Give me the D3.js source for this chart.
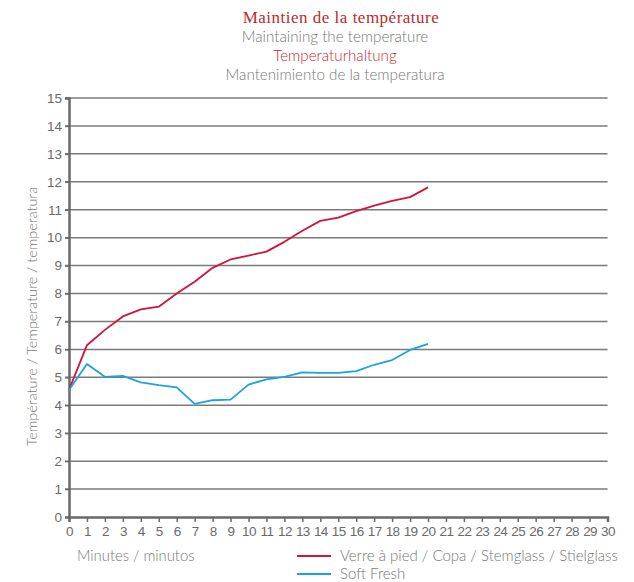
<!DOCTYPE html>
<html lang="fr">
<head>
<meta charset="UTF-8" />
<title>Maintien de la température</title>
<style>
  * { margin: 0; padding: 0; }
  body { background: #fff; }
</style>
</head>
<body>
<script src="https://d3js.org/d3.v7.min.js"></script>
<script>
  const minutes = d3.range(0, 21);
  const stemglass = [4.55, 6.15, 6.7, 7.18, 7.43, 7.53, 8.0, 8.42, 8.92, 9.22, 9.36, 9.5, 9.85, 10.25, 10.6, 10.72, 10.95, 11.15, 11.32, 11.45, 11.8];
  const softFresh = [4.55, 5.48, 5.02, 5.05, 4.82, 4.72, 4.64, 4.05, 4.18, 4.2, 4.74, 4.93, 5.02, 5.18, 5.16, 5.16, 5.22, 5.45, 5.62, 5.98, 6.2];
  const titles = ["Maintien de la température", "Maintaining the temperature", "Temperaturhaltung", "Mantenimiento de la temperatura"];
  const seriesNames = ["Verre à pied / Copa / Stemglass / Stielglass", "Soft Fresh"];
  const colors = ["#d2143a", "#1aa3e2"];

  const width = 634, height = 582;
  const margin = { top: 98, left: 69, right: 26, bottom: 65 };
  const sans = "Lato, 'Open Sans', sans-serif";
  const grey = "#767676";

  const svg = d3.select("body").append("svg")
    .attr("width", width)
    .attr("height", height);

  const x = d3.scaleLinear().domain([0, 30]).range([margin.left, width - margin.right - 0.5]);
  const y = d3.scaleLinear().domain([0, 15]).range([height - margin.bottom, margin.top]);

  // titres
  const titleStyle = [
    { font: "'Liberation Serif', serif", color: "#c0282e", size: "17px", cx: 341 },
    { font: sans, color: grey, size: "15.2px", cx: 335 },
    { font: sans, color: "#c4282f", size: "15.2px", cx: 335 },
    { font: sans, color: grey, size: "15.2px", cx: 335 }
  ];
  svg.append("g").selectAll("text")
    .data(titles)
    .join("text")
    .attr("x", (d, i) => titleStyle[i].cx)
    .attr("y", (d, i) => 22.5 + i * 19.3)
    .attr("text-anchor", "middle")
    .attr("font-size", (d, i) => titleStyle[i].size)
    .attr("font-weight", (d, i) => i == 0 ? 400 : 300)
    .attr("letter-spacing", (d, i) => i == 0 ? "0.5px" : null)
    .attr("font-family", (d, i) => titleStyle[i].font)
    .attr("fill", (d, i) => titleStyle[i].color)
    .text(d => d);

  // grille horizontale
  svg.append("g")
    .selectAll("line")
    .data(d3.range(1, 16))
    .join("line")
    .attr("x1", margin.left - 4)
    .attr("x2", x(30))
    .attr("y1", d => y(d))
    .attr("y2", d => y(d))
    .attr("stroke", "#7a7a7a")
    .attr("stroke-width", 1.5);

  // axe y
  const yAxis = svg.append("g")
    .attr("transform", `translate(${margin.left},0)`)
    .call(d3.axisLeft(y).ticks(15).tickSize(4).tickPadding(3));
  yAxis.select(".domain").attr("stroke", "#6a6a6a").attr("stroke-width", 2.5);
  yAxis.selectAll(".tick line").attr("stroke", "#6a6a6a").attr("stroke-width", 1.5);
  yAxis.selectAll(".tick text")
    .attr("fill", "#6a6a6a")
    .attr("font-size", "13.5px")
    .attr("font-family", "'Liberation Sans', Arial, sans-serif");

  // axe x
  const xAxis = svg.append("g")
    .attr("transform", `translate(0,${y(0)})`)
    .call(d3.axisBottom(x).ticks(30).tickSize(5).tickPadding(4));
  xAxis.select(".domain").attr("stroke", "#6a6a6a").attr("stroke-width", 2.5);
  xAxis.selectAll(".tick line").attr("stroke", "#6a6a6a").attr("stroke-width", 1.5);
  xAxis.selectAll(".tick text")
    .attr("fill", "#6a6a6a")
    .attr("font-size", "13.5px")
    .attr("letter-spacing", "-0.6px")
    .attr("font-family", "'Liberation Sans', Arial, sans-serif");

  // courbes
  const line = d3.line()
    .x((d, i) => x(minutes[i]))
    .y(d => y(d));

  [stemglass, softFresh].forEach((s, k) => {
    svg.append("path")
      .datum(s)
      .attr("fill", "none")
      .attr("stroke", colors[k])
      .attr("stroke-width", 1.8)
      .attr("stroke-linejoin", "round")
      .attr("d", line);
  });

  // titre axe y
  svg.append("text")
    .attr("transform", `translate(37,${y(7.5) + 9}) rotate(-90)`)
    .attr("text-anchor", "middle")
    .attr("font-size", "14.4px")
    .attr("font-weight", 300)
    .attr("font-family", sans)
    .attr("fill", grey)
    .text("Température / Temperature /  temperatura");

  // titre axe x
  svg.append("text")
    .attr("x", 77)
    .attr("y", 561)
    .attr("font-size", "14.8px")
    .attr("font-weight", 300)
    .attr("font-family", sans)
    .attr("fill", grey)
    .text("Minutes / minutos");

  // légende
  const legend = svg.append("g").attr("transform", "translate(297,556)");
  seriesNames.forEach((name, k) => {
    const g = legend.append("g").attr("transform", `translate(0,${k * 18})`);
    g.append("line")
      .attr("x1", 0).attr("x2", 34)
      .attr("stroke", colors[k])
      .attr("stroke-width", 1.8);
    g.append("text")
      .attr("x", 43)
      .attr("y", 5)
      .attr("font-size", "15px")
      .attr("font-weight", 300)
      .attr("font-family", sans)
      .attr("fill", grey)
      .text(name);
  });
</script>
</body>
</html>
